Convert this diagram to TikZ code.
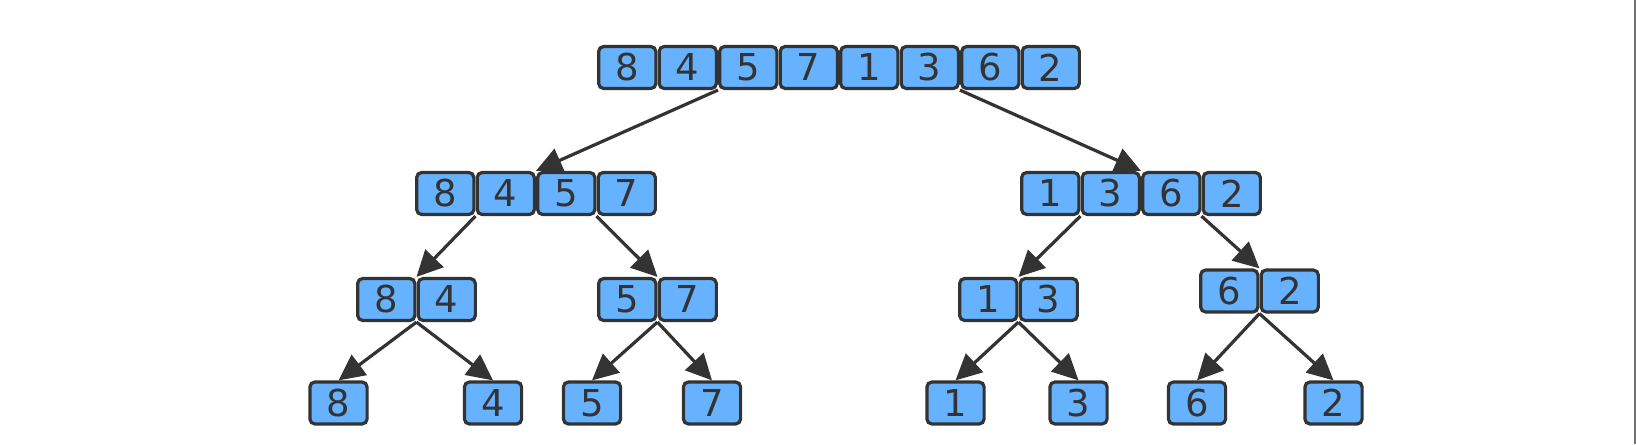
\documentclass[tikz,border=0pt]{standalone}
\usepackage{fontspec}
\setmainfont{DejaVu Sans}
\usetikzlibrary{arrows.meta}
\definecolor{cellblue}{HTML}{66B2FF}
\definecolor{inkgrey}{HTML}{333333}
\definecolor{edgegrey}{HTML}{707070}
\begin{document}
\begin{tikzpicture}[x = 0.5pt, y = -0.5pt,
  cell/.style = {draw = inkgrey, fill = cellblue, line width = 1.6pt, rounded corners = 2.5pt,
    minimum width = 28.6pt, minimum height = 21pt, inner sep = 0pt, text = inkgrey,
    font = \fontsize{18.5}{20}\selectfont},
  split/.style = {draw = inkgrey, line width = 1.6pt, -{Triangle[length = 13pt, width = 12.5pt]}}]
\useasboundingbox (0, 0) rectangle (1636, 444);
\draw [edgegrey, line width = 1pt] (1634.5, 0) -- (1634.5, 444);
% whole array
\foreach \v [count = \i] in {8, 4, 5, 7, 1, 3, 6, 2}
  \node [cell] (a\i) at ({627.25 + (\i - 1) * 60.5}, 67.5) {\v};
% first split
\foreach \v [count = \i] in {8, 4, 5, 7}
  \node [cell] (b\i) at ({445.25 + (\i - 1) * 60.5}, 193.5) {\v};
\foreach \v [count = \i] in {1, 3, 6, 2}
  \node [cell] (c\i) at ({1050.25 + (\i - 1) * 60.5}, 193.5) {\v};
% second split
\foreach \v [count = \i] in {8, 4}
  \node [cell] (d\i) at ({386.25 + (\i - 1) * 60.5}, 299.5) {\v};
\foreach \v [count = \i] in {5, 7}
  \node [cell] (e\i) at ({627.25 + (\i - 1) * 60.5}, 299.5) {\v};
\foreach \v [count = \i] in {1, 3}
  \node [cell] (f\i) at ({988.25 + (\i - 1) * 60.5}, 299.5) {\v};
\foreach \v [count = \i] in {6, 2}
  \node [cell] (g\i) at ({1229.25 + (\i - 1) * 60.5}, 291) {\v};
% single elements
\node [cell] (h1) at (338.5, 403) {8};
\node [cell] (h2) at (493, 403) {4};
\node [cell] (h3) at (592, 403) {5};
\node [cell] (h4) at (712, 403) {7};
\node [cell] (h5) at (955.5, 403) {1};
\node [cell] (h6) at (1078.5, 403) {3};
\node [cell] (h7) at (1197, 403) {6};
\node [cell] (h8) at (1333.5, 403) {2};
% arrows
\draw [split] (a2.south east) -- (b2.north east);
\draw [split] (a6.south east) -- (c2.north east);
\draw [split] (b1.south east) -- (d1.north east);
\draw [split] (b3.south east) -- (e1.north east);
\draw [split] (c1.south east) -- (f1.north east);
\draw [split] (c3.south east) -- (g1.north east);
\draw [split] (d1.south east) -- (h1.north);
\draw [split] (d1.south east) -- (h2.north);
\draw [split] (e1.south east) -- (h3.north);
\draw [split] (e1.south east) -- (h4.north);
\draw [split] (f1.south east) -- (h5.north);
\draw [split] (f1.south east) -- (h6.north);
\draw [split] (g1.south east) -- (h7.north);
\draw [split] (g1.south east) -- (h8.north);
\end{tikzpicture}
\end{document}
